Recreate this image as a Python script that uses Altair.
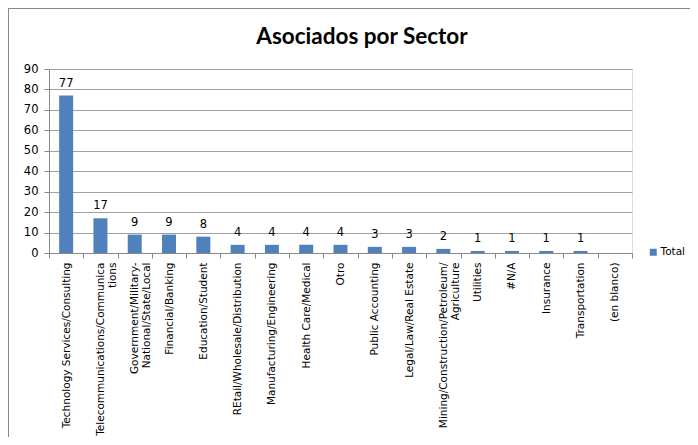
import altair as alt
import pandas as pd

categories = [
    "Technology Services/Consulting",
    "Telecommunications/Communica\ntions",
    "Government/Military-\nNational/State/Local",
    "Financial/Banking",
    "Education/Student",
    "REtail/Wholesale/Distribution",
    "Manufacturing/Engineering",
    "Health Care/Medical",
    "Otro",
    "Public Accounting",
    "Legal/Law/Real Estate",
    "Mining/Construction/Petroleum/\nAgriculture",
    "Utilities",
    "#N/A",
    "Insurance",
    "Transportation",
    "(en blanco)",
]
totals = [77, 17, 9, 9, 8, 4, 4, 4, 4, 3, 3, 2, 1, 1, 1, 1, None]
series = ["Total"] * len(categories)
y_ticks = [0, 10, 20, 30, 40, 50, 60, 70, 80, 90]
title_text = "Asociados por Sector"

df = pd.DataFrame({"sector": categories, "total": totals, "serie": series})

FONT = "DejaVu Sans"
BAR = "#4F81BD"

base = alt.Chart(df)

x_enc = alt.X(
    "sector:N",
    sort=None,
    title=None,
    scale=alt.Scale(domain=categories, paddingInner=0, paddingOuter=0),
    axis=alt.Axis(
        labelAngle=-90,
        labelExpr="split(datum.label, '\\n')",
        labelFont=FONT,
        labelFontSize=10.5,
        labelColor="#000000",
        labelPadding=4,
        labelLineHeight=12,
        labelLimit=0,
        labelOverlap=False,
        tickBand="extent",
        tickSize=5,
        tickColor="#888888",
        domainColor="#888888",
        grid=False,
    ),
)

y_enc = alt.Y(
    "total:Q",
    title=None,
    scale=alt.Scale(domain=[0, 90], nice=False),
    axis=alt.Axis(
        values=y_ticks,
        tickCount=10,
        labelOverlap=False,
        labelFont=FONT,
        labelFontSize=11.5,
        labelColor="#000000",
        labelPadding=6,
        tickSize=5,
        tickColor="#888888",
        domainColor="#888888",
        gridColor="#A0A0A0",
        gridWidth=1,
    ),
)

bars = base.mark_bar(size=14).encode(
    x=x_enc,
    y=y_enc,
    color=alt.Color(
        "serie:N",
        scale=alt.Scale(range=[BAR]),
        legend=alt.Legend(
            title=None,
            orient="none",
            legendX=599,
            legendY=178,
            symbolType="square",
            symbolSize=49,
            symbolStrokeWidth=0,
            labelFont=FONT,
            labelFontSize=10.5,
            labelColor="#000000",
            labelOffset=2,
            labelLimit=0,
        ),
    ),
)

labels = base.transform_filter("isValid(datum.total)").mark_text(
    dy=-7, baseline="bottom", font=FONT, fontSize=11.5, color="#000000"
).encode(
    x=alt.X("sector:N", sort=None),
    y=alt.Y("total:Q"),
    text=alt.Text("total:Q"),
)

one = alt.Data(values=[{"t": title_text}])
title_mark = alt.Chart(one).mark_text(
    font="Lato", fontSize=22.5, fontWeight="bold", color="#000000",
    align="center", baseline="alphabetic", clip=False,
).encode(x=alt.value(313), y=alt.value(-25), text="t:N")

frame_top = alt.Chart(one).mark_rule(color="#888888", strokeWidth=1, clip=False).encode(
    x=alt.value(-41), x2=alt.value(641), y=alt.value(-60.5)
)
frame_left = alt.Chart(one).mark_rule(color="#888888", strokeWidth=1, clip=False).encode(
    x=alt.value(-40.5), y=alt.value(-61), y2=alt.value(368)
)

chart = alt.layer(frame_top, frame_left, title_mark, bars, labels).properties(
    width=583,
    height=184,
    autosize=alt.AutoSizeParams(type="none"),
    padding={"left": 41, "top": 61, "right": 58, "bottom": 184},
).configure_view(stroke=None).configure(background="#FFFFFF")

chart.save("out.html", embed_options={"renderer": "svg", "actions": False})
